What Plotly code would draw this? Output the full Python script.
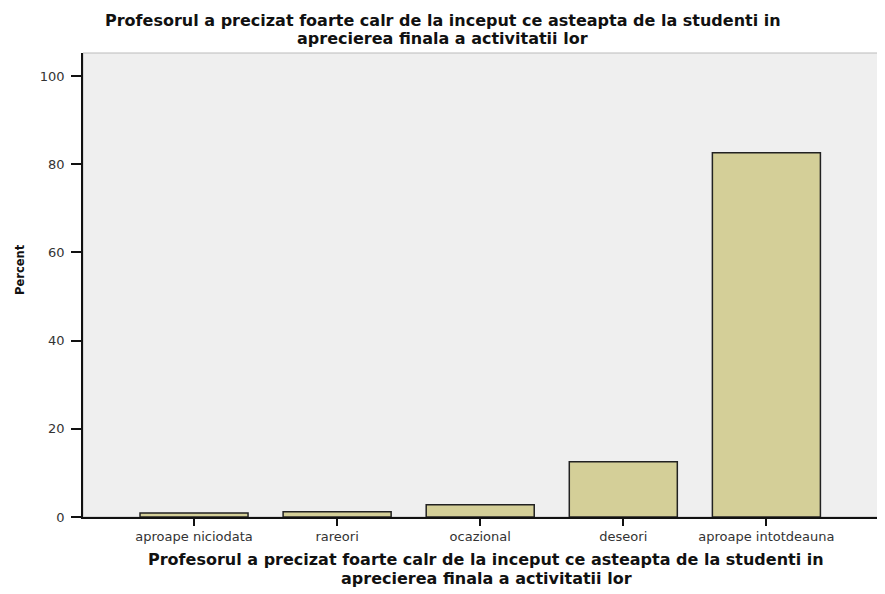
import plotly.graph_objects as go

categories = ["aproape niciodata", "rareori", "ocazional", "deseori", "aproape intotdeauna"]
percent = [0.9, 1.2, 2.8, 12.5, 82.6]
y_ticks = [0, 20, 40, 60, 80, 100]
title_lines = ["Profesorul a precizat foarte calr de la inceput ce asteapta de la studenti in",
               "aprecierea finala a activitatii lor"]
x_title_lines = ["Profesorul a precizat foarte calr de la inceput ce asteapta de la studenti in",
                 "aprecierea finala a activitatii lor"]
y_title = "Percent"

# the page body adds an 8px offset; the figure is sized so the screenshot lines up
OFF = 8
FIG_W, FIG_H = 885 - OFF, 594 - OFF
PLOT_TOP, PLOT_BOTTOM, PLOT_LEFT, PLOT_RIGHT = 53 - OFF, 517 - OFF, 83 - OFF, 878 - OFF
H = PLOT_BOTTOM - PLOT_TOP
W = PLOT_RIGHT - PLOT_LEFT


def py(p):
    return (PLOT_BOTTOM - (p - OFF)) / H


def px(p):
    return ((p - OFF) - PLOT_LEFT) / W


fig = go.Figure()
fig.add_trace(go.Bar(
    x=categories, y=percent,
    width=0.755,
    marker=dict(color="#d4cf98", line=dict(color="#222222", width=1.5)),
))

fig.update_layout(
    width=FIG_W, height=FIG_H,
    margin=dict(l=PLOT_LEFT, r=FIG_W - PLOT_RIGHT, t=PLOT_TOP, b=FIG_H - PLOT_BOTTOM),
    paper_bgcolor="white",
    plot_bgcolor="#efefef",
    showlegend=False,
    font=dict(family="DejaVu Sans, Liberation Sans, sans-serif", color="#111111"),
)

fig.update_xaxes(
    range=[-0.776, 4.78], automargin=False,
    showline=True, linecolor="#111111", linewidth=1.5,
    ticks="outside", ticklen=7, tickcolor="#111111", tickwidth=1.5,
    tickfont=dict(size=13, color="#333333"),
    showgrid=False,
)
fig.update_yaxes(
    range=[0, 105.2], automargin=False,
    tickvals=y_ticks,
    showline=True, linecolor="#111111", linewidth=1.5,
    ticks="outside", ticklen=10, tickcolor="#111111", tickwidth=1.5,
    tickfont=dict(size=13, color="#333333"), ticklabelstandoff=4,
    showgrid=False, zeroline=False,
)

fig.add_shape(type="rect", xref="paper", yref="paper", x0=0, y0=0, x1=1, y1=1,
              line=dict(color="#bbbbbb", width=1), layer="below")

for text, ypix in zip(title_lines, [8.5, 27.5]):
    fig.add_annotation(text="<b>" + text + "</b>", xref="paper", yref="paper",
                       x=px(442.5), y=py(ypix), xanchor="center", yanchor="top",
                       showarrow=False, font=dict(size=16, color="#111111"))

for text, ypix in zip(x_title_lines, [559, 578]):
    fig.add_annotation(text="<b>" + text + "</b>", xref="paper", yref="paper",
                       x=px(486), y=py(ypix), xanchor="center", yanchor="middle",
                       showarrow=False, font=dict(size=16, color="#111111"))

fig.add_annotation(text="<b>" + y_title + "</b>", xref="paper", yref="paper",
                   x=px(20), y=py(270), xanchor="center", yanchor="middle",
                   textangle=-90, showarrow=False, font=dict(size=11.5, color="#111111"))

fig.write_html("out.html")
